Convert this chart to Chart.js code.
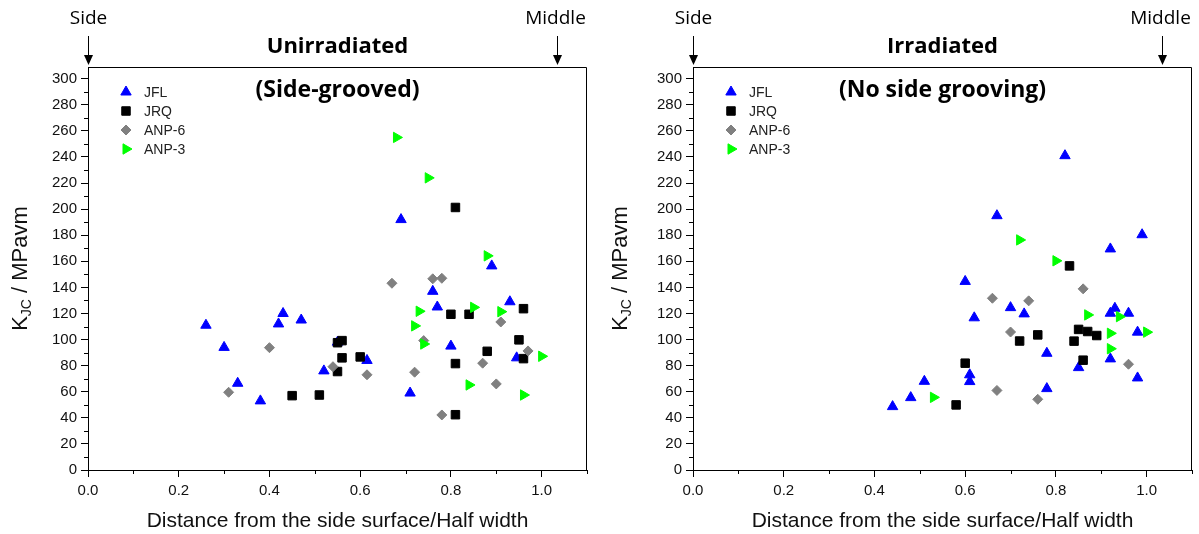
<!DOCTYPE html>
<html>
<head>
<meta charset="utf-8">
<title>KJC vs distance from side surface</title>
<script src="https://cdn.jsdelivr.net/npm/chart.js@4.4.0/dist/chart.umd.min.js"></script>
<style>
  html, body { margin: 0; padding: 0; background: #fff; }
  #wrap { position: relative; width: 1199px; height: 534px; }
  .box { position: absolute; top: 0; height: 534px; }
  #left { left: 0; width: 600px; }
  #right { left: 600px; width: 599px; }
</style>
</head>
<body>
<div id="wrap">
  <div class="box" id="left"><canvas id="c1"></canvas></div>
  <div class="box" id="right"><canvas id="c2"></canvas></div>
</div>
<script>
// ---- data ----
var seriesNames = ['JFL', 'JRQ', 'ANP-6', 'ANP-3'];

// left: unirradiated (side-grooved)
var uJFLx = [0.26, 0.30, 0.33, 0.38, 0.42, 0.43, 0.47, 0.52, 0.55, 0.615, 0.69, 0.71, 0.76, 0.77, 0.80, 0.89, 0.93, 0.945];
var uJFLy = [111, 94, 66.5, 53, 112, 120, 115, 76, 98, 84, 192, 59, 137, 125, 95, 156.5, 129, 86];
var uJRQx = [0.45, 0.51, 0.55, 0.55, 0.56, 0.56, 0.60, 0.80, 0.81, 0.81, 0.81, 0.84, 0.88, 0.95, 0.96, 0.96];
var uJRQy = [57, 57.5, 75.5, 97.6, 99.2, 86, 86.7, 119.4, 201.3, 81.6, 42.4, 119.4, 91, 99.8, 123.7, 85.4];
var uANP6x = [0.31, 0.40, 0.54, 0.615, 0.67, 0.72, 0.74, 0.76, 0.78, 0.78, 0.87, 0.90, 0.91, 0.97];
var uANP6y = [59.6, 93.8, 79.2, 73, 143.2, 75, 99.2, 146.6, 147, 42.2, 81.9, 66, 113.5, 91.3];
var uANP3x = [0.68, 0.75, 0.88, 0.73, 0.85, 0.91, 0.72, 0.74, 1.00, 0.84, 0.96];
var uANP3y = [255, 224, 164.2, 121.7, 124.7, 121.4, 110.5, 96.6, 87.2, 65.2, 57.5];

// right: irradiated (no side grooving)
var iJFLx = [0.44, 0.48, 0.51, 0.60, 0.61, 0.61, 0.62, 0.67, 0.70, 0.73, 0.78, 0.78, 0.82, 0.85, 0.92, 0.92, 0.92, 0.93, 0.96, 0.98, 0.98, 0.99];
var iJFLy = [48.6, 55.5, 68, 144.6, 73, 67.8, 116.7, 195, 124.5, 119.7, 89.5, 62.4, 241, 78.5, 169.5, 120.2, 85.2, 124, 120.2, 105.7, 70.6, 180.4];
var iJRQx = [0.58, 0.60, 0.72, 0.76, 0.83, 0.84, 0.85, 0.86, 0.87, 0.89];
var iJRQy = [49.9, 81.9, 98.9, 103.6, 156.5, 98.8, 107.8, 84.2, 106.2, 103.1];
var iANP6x = [0.66, 0.67, 0.70, 0.74, 0.76, 0.86, 0.96];
var iANP6y = [131.7, 61, 105.8, 129.7, 54.2, 138.9, 81.1];
var iANP3x = [0.53, 0.72, 0.80, 0.87, 0.92, 0.92, 0.94, 1.00];
var iANP3y = [55.7, 176.4, 160.4, 118.9, 104.8, 93, 117.6, 105.7];

// axes
var xMin = 0, xMax = 1.1;
var yMin = 0, yMax = 309;
var xMajor = [0, 0.2, 0.4, 0.6, 0.8, 1.0];
var xMinor = [0.1, 0.3, 0.5, 0.7, 0.9, 1.1];
var yMajor = [0, 20, 40, 60, 80, 100, 120, 140, 160, 180, 200, 220, 240, 260, 280, 300];
var yMinor = [10, 30, 50, 70, 90, 110, 130, 150, 170, 190, 210, 230, 250, 270, 290];
var sideX = 0, middleX = 1.033;   // where the arrows point

function pts(xs, ys) {
  return xs.map(function (x, i) { return { x: x, y: ys[i] }; });
}

var STYLE = [
  { color: '#0000ff', style: 'triangle', rot: 0, r: 6 },
  { color: '#000000', style: 'rect', rot: 0, r: 6 },
  { color: '#808080', style: 'rectRot', rot: 0, r: 5 },
  { color: '#00ff00', style: 'triangle', rot: 90, r: 6 }
];

var AX_FONT = 'Liberation Sans, Arial, sans-serif';
var TT_FONT = 'Open Sans, sans-serif';

function decor(cfg) {
  return {
    id: 'decor',
    afterDraw: function (chart) {
      var ctx = chart.ctx, a = chart.chartArea;
      var xs = chart.scales.x, ys = chart.scales.y;
      ctx.save();
      ctx.strokeStyle = '#000';
      ctx.lineWidth = 1;
      // frame top + right
      ctx.beginPath();
      ctx.moveTo(Math.round(a.left) + 0.5, Math.round(a.top) + 0.5);
      ctx.lineTo(Math.round(a.right) - 0.5, Math.round(a.top) + 0.5);
      ctx.lineTo(Math.round(a.right) - 0.5, Math.round(a.bottom));
      ctx.stroke();
      // minor ticks
      ctx.beginPath();
      yMinor.forEach(function (v) {
        var py = Math.round(ys.getPixelForValue(v)) + 0.5;
        ctx.moveTo(a.left - 4, py); ctx.lineTo(a.left, py);
      });
      xMinor.forEach(function (v) {
        var px = Math.round(xs.getPixelForValue(v)) + 0.5;
        ctx.moveTo(px, a.bottom); ctx.lineTo(px, a.bottom + 4);
      });
      ctx.stroke();

      // arrows + Side / Middle
      ctx.fillStyle = '#000';
      ctx.font = '19px ' + TT_FONT;
      ctx.textAlign = 'center';
      ctx.textBaseline = 'middle';
      [[sideX, 'Side'], [middleX, 'Middle']].forEach(function (p) {
        var ax = Math.round(xs.getPixelForValue(p[0])) + 0.5;
        ctx.fillText(p[1], ax - (p[0] ? 2 : 0), 19);
        ctx.beginPath();
        ctx.moveTo(ax, 36); ctx.lineTo(ax, 57);
        ctx.stroke();
        ctx.beginPath();
        ctx.moveTo(ax - 4.5, 55); ctx.lineTo(ax + 4.5, 55); ctx.lineTo(ax, 65);
        ctx.closePath(); ctx.fill();
      });

      // titles
      var cx = (a.left + a.right) / 2;
      ctx.font = 'bold 22px ' + TT_FONT;
      ctx.fillText(cfg.title, cx, 47);
      ctx.font = 'bold 23px ' + TT_FONT;
      ctx.fillText(cfg.subtitle, cx, 90);

      // legend
      ctx.textAlign = 'left';
      ctx.font = '14px ' + AX_FONT;
      seriesNames.forEach(function (n, i) {
        var s = STYLE[i];
        var ly = a.top + 25 + i * 19;
        ctx.fillStyle = s.color; ctx.strokeStyle = s.color;
        Chart.helpers.drawPoint(ctx, { pointStyle: s.style, rotation: s.rot, radius: s.r, borderWidth: 1 }, a.left + 38, ly);
        ctx.fillStyle = '#222';
        ctx.fillText(n, a.left + 56, ly + 1);
      });

      // y title with subscript
      ctx.fillStyle = '#111';
      ctx.translate(21, (a.top + a.bottom) / 2);
      ctx.rotate(-Math.PI / 2);
      var big = '22px ' + AX_FONT, small = '14px ' + AX_FONT;
      ctx.font = big; var wK = ctx.measureText('K').width;
      var rest = ' / MPavm'; var wR = ctx.measureText(rest).width;
      ctx.font = small; var wJ = ctx.measureText('JC').width;
      var x0 = -(wK + wJ + wR) / 2;
      ctx.font = big; ctx.fillText('K', x0, 0);
      ctx.font = small; ctx.fillText('JC', x0 + wK, 6);
      ctx.font = big; ctx.fillText(rest, x0 + wK + wJ, 0);
      ctx.restore();

      // x title
      ctx.save();
      ctx.fillStyle = '#111';
      ctx.font = '21px ' + AX_FONT;
      ctx.textAlign = 'center';
      ctx.textBaseline = 'middle';
      ctx.fillText('Distance from the side surface/Half width', cx, 521);
      ctx.restore();
    }
  };
}

function makeChart(id, sets, cfg) {
  var datasets = sets.map(function (d, i) {
    var s = STYLE[i];
    return {
      label: seriesNames[i],
      data: d,
      order: 4 - i,
      pointStyle: s.style,
      rotation: s.rot,
      pointRadius: s.r,
      pointHoverRadius: s.r,
      pointBackgroundColor: s.color,
      pointBorderColor: s.color,
      pointBorderWidth: 1,
      showLine: false
    };
  });
  return new Chart(document.getElementById(id), {
    type: 'scatter',
    data: { datasets: datasets },
    options: {
      responsive: true,
      maintainAspectRatio: false,
      animation: false,
      devicePixelRatio: 1,
      events: [],
      layout: { padding: { top: 67, right: cfg.rightPad, left: 0, bottom: 0 } },
      plugins: { legend: { display: false }, tooltip: { enabled: false } },
      scales: {
        x: {
          type: 'linear', min: xMin, max: xMax,
          afterFit: function (s) { s.height = 64; },
          afterBuildTicks: function (s) { s.ticks = xMajor.map(function (v) { return { value: v }; }); },
          ticks: {
            autoSkip: false, maxRotation: 0, padding: 5,
            color: '#111', font: { size: 15, family: AX_FONT },
            callback: function (v) { return v.toFixed(1); }
          },
          grid: { drawOnChartArea: false, drawTicks: true, tickLength: 7, tickColor: '#000' },
          border: { display: true, color: '#000', width: 1 }
        },
        y: {
          min: yMin, max: yMax,
          afterFit: function (s) { s.width = cfg.yWidth; },
          afterBuildTicks: function (s) { s.ticks = yMajor.map(function (v) { return { value: v }; }); },
          ticks: {
            autoSkip: false, padding: 4,
            color: '#111', font: { size: 15, family: AX_FONT },
            callback: function (v) { return String(v); }
          },
          grid: { drawOnChartArea: false, drawTicks: true, tickLength: 7, tickColor: '#000' },
          border: { display: true, color: '#000', width: 1 }
        }
      }
    },
    plugins: [decor(cfg)]
  });
}

makeChart('c1', [pts(uJFLx, uJFLy), pts(uJRQx, uJRQy), pts(uANP6x, uANP6y), pts(uANP3x, uANP3y)],
  { title: 'Unirradiated', subtitle: '(Side-grooved)', yWidth: 88, rightPad: 13 });
makeChart('c2', [pts(iJFLx, iJFLy), pts(iJRQx, iJRQy), pts(iANP6x, iANP6y), pts(iANP3x, iANP3y)],
  { title: 'Irradiated', subtitle: '(No side grooving)', yWidth: 93, rightPad: 6 });
</script>
</body>
</html>
